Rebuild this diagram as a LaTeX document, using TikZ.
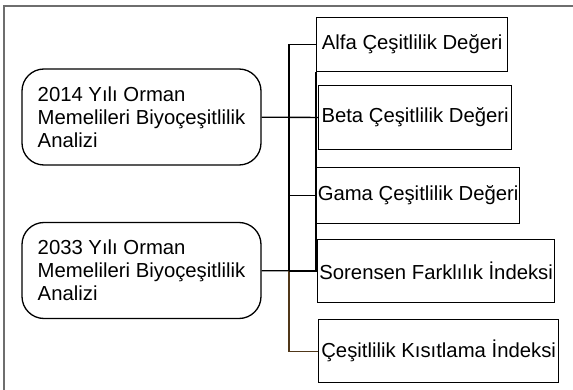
\documentclass[tikz,border=0pt]{standalone}
\usepackage{fontspec}
\setmainfont{Liberation Sans}
\usepackage{tikz}
\usetikzlibrary{positioning,calc}
\definecolor{framegray}{RGB}{110,110,110}
\definecolor{busbrown}{RGB}{80,55,25}

\begin{document}
\begin{tikzpicture}[x=1pt, y=-1pt, line width=1.3pt,
    every node/.style={font=\fontsize{20.3}{23}\selectfont},
    study/.style={draw, rectangle, rounded corners=22pt, minimum width=239pt, minimum height=96pt, align=left, inner sep=0pt},
    result/.style={draw, rectangle, anchor=north west, inner sep=0pt}]
    \useasboundingbox (0,0) rectangle (573,390);
    % Frame
    \draw [framegray, line width=1.8pt] (4,390) -- (4,6) -- (573,6);

    % Nodes
    \node [study] (study1) at (141.5,117) {2014 Yılı Orman\\Memelileri Biyoçeşitlilik\\Analizi};
    \node [study] (study2) at (141.5,270.5) {2033 Yılı Orman\\Memelileri Biyoçeşitlilik\\Analizi};
    \node [result, minimum width=191pt, minimum height=54pt] (alfa) at (316,17) {Alfa Çeşitlilik Değeri};
    \node [result, minimum width=193pt, minimum height=64pt] (beta) at (318,85) {Beta Çeşitlilik Değeri};
    \node [result, minimum width=203pt, minimum height=56pt] (gama) at (316,167) {Gama Çeşitlilik Değeri};
    \node [result, minimum width=237pt, minimum height=63pt] (soren) at (317,239) {Sorensen Farklılık İndeksi};
    \node [result, minimum width=240pt, minimum height=63pt] (cesit) at (318,319) {Çeşitlilik Kısıtlama İndeksi};
    \coordinate (bus) at (289,0);

    % Lines
    \draw (study1) -- (beta);
    \draw (study2) -- (soren);
    \draw (alfa.west) -| (bus |- soren.west);
    \draw [busbrown] (bus |- soren.west) |- (cesit.west);
    \foreach \n in {beta,gama,soren} \draw (bus |- \n.west) -- (\n.west);
    \draw (alfa.south west) -- (alfa.south west |- soren.west);
\end{tikzpicture}
\end{document}
